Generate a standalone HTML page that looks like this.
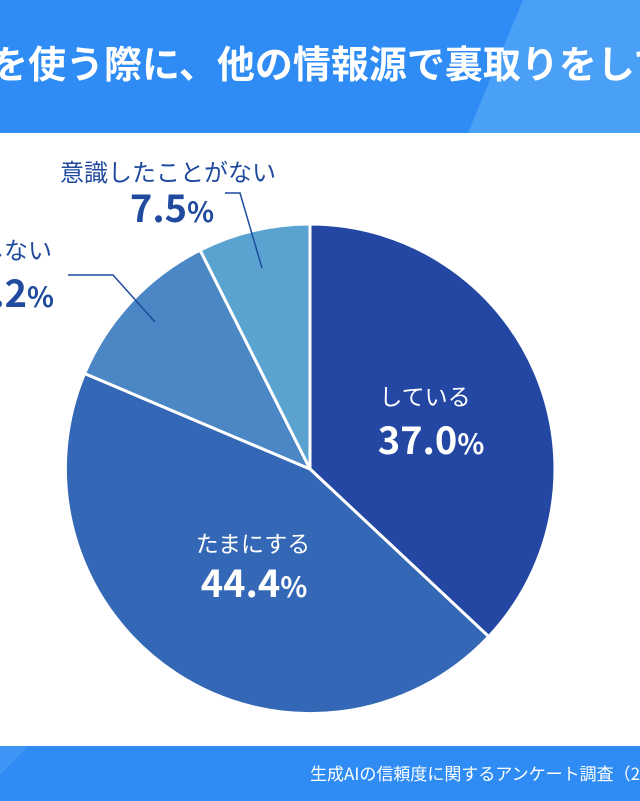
<!DOCTYPE html>
<html><head><meta charset="utf-8"><style>
html,body{margin:0;padding:0;background:#fff;}
body{width:640px;height:801px;overflow:hidden;position:relative;font-family:"Liberation Sans","Noto Sans CJK JP",sans-serif;}
</style></head><body>
<svg width="640" height="801" viewBox="0 0 640 801" xmlns="http://www.w3.org/2000/svg" style="position:absolute;left:0;top:0">
<rect x="0" y="0" width="640" height="133" fill="#2f8cf5"/>
<polygon points="523,0 640,0 640,133 468,133" fill="#4aa0f7"/>
<text x="-10" y="78" font-size="38" font-weight="bold" fill="#fff" font-family="'Noto Sans CJK JP',sans-serif">を使う際に、他の情報源で裏取りをしていますか</text>
<rect x="0" y="746" width="640" height="55" fill="#2f8cf5"/>
<polygon points="0,746 28,746 0,775" fill="#3d95f6"/>
<text x="310" y="780" font-size="17" fill="#fff" font-family="'Noto Sans CJK JP',sans-serif">生成AIの信頼度に関するアンケート調査（2024）</text>
<g stroke="#fff" stroke-width="3" stroke-linejoin="round">
<path d="M310,469 L310,224 A245,245 0 0 1 488.7,636.6 Z" fill="#2347a3"/>
<path d="M310,469 L488.7,636.6 A245,245 0 0 1 84.6,373.5 Z" fill="#3467b5"/>
<path d="M310,469 L84.6,373.5 A245,245 0 0 1 200.1,250.1 Z" fill="#4a87c4"/>
<path d="M310,469 L200.1,250.1 A245,245 0 0 1 310,224 Z" fill="#5aa3d0"/>
</g>
<polyline points="225,193 240,193 262,268" fill="none" stroke="#1f4a9e" stroke-width="1.5"/>
<polyline points="68,275 113,275 155,322" fill="none" stroke="#1f4a9e" stroke-width="1.5"/>
<g font-family="'Noto Sans CJK JP',sans-serif">
<text x="168" y="181" font-size="24" fill="#1f4a9e" text-anchor="middle">意識したことがない</text>
<text x="172" y="222" font-size="38" font-weight="bold" fill="#1f4a9e" text-anchor="middle">7.5<tspan font-size="28">%</tspan></text>
<text x="52" y="259" font-size="24" fill="#1f4a9e" text-anchor="end">あまりしない</text>
<text x="54" y="307" font-size="38" font-weight="bold" fill="#1f4a9e" text-anchor="end">11.2<tspan font-size="28">%</tspan></text>
<text x="425" y="405" font-size="23" fill="#fff" text-anchor="middle">している</text>
<text x="431" y="454" font-size="38" font-weight="bold" fill="#fff" text-anchor="middle">37.0<tspan font-size="28">%</tspan></text>
<text x="253" y="552" font-size="23" fill="#fff" text-anchor="middle">たまにする</text>
<text x="254" y="597" font-size="38" font-weight="bold" fill="#fff" text-anchor="middle">44.4<tspan font-size="28">%</tspan></text>
</g>
</svg>
</body></html>
